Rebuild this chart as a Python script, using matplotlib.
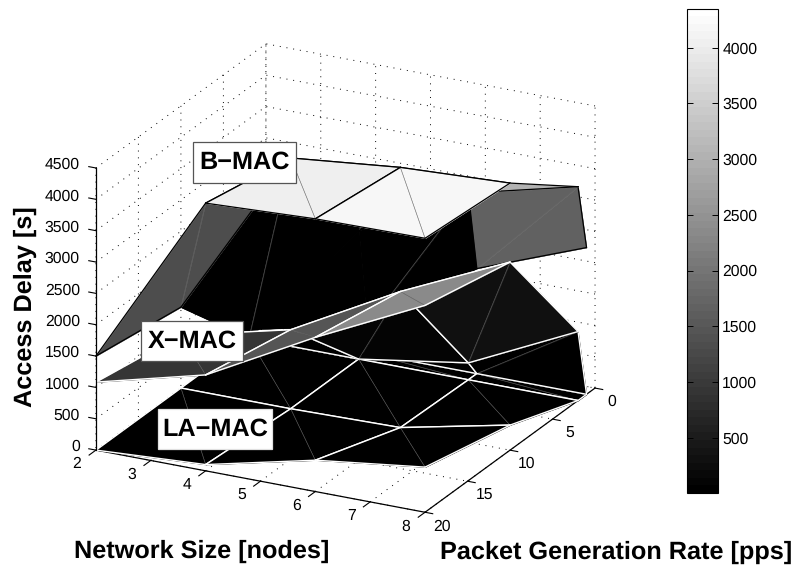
import matplotlib
matplotlib.use("Agg")
import matplotlib.pyplot as plt
import matplotlib.cm as cm
import matplotlib.colors as colors
from matplotlib.patches import Rectangle
from mpl_toolkits.mplot3d import proj3d
from mpl_toolkits.mplot3d.art3d import Poly3DCollection

plt.rcParams["font.family"] = ["Liberation Sans", "DejaVu Sans"]
plt.rcParams["text.hinting"] = "none"

network_size = [2, 4, 6, 8]
packet_rate = [1, 2, 10, 20]
y_ticks = [0, 5, 10, 15, 20]
x_ticks = [2, 3, 4, 5, 6, 7, 8]
z_ticks = [0, 500, 1000, 1500, 2000, 2500, 3000, 3500, 4000, 4500]
bar_ticks = [500, 1000, 1500, 2000, 2500, 3000, 3500, 4000]

# rows follow packet_rate, columns follow network_size
bmac_delay = [
    [50, 430, 1675, 2340],
    [0, 2050, 2980, 3410],
    [1290, 4000, 4180, 4260],
    [1500, 4270, 4350, 4370],
]
xmac_delay = [
    [0, 0, 0, 0],
    [0, 0, 270, 1100],
    [845, 1260, 2200, 3000],
    [1085, 1530, 2460, 3300],
]
lamac_delay = [
    [0, 0, 0, 0],
    [0, 0, 0, 0],
    [0, 0, 30, 400],
    [0, 100, 500, 720],
]

# colour value of the two triangles in each cell
bmac_shade_a = [[3, 3, 1640], [3, 3, 3000], [1350, 4030, 4200]]
bmac_shade_b = [[3, 3, 1640], [3, 3, 3], [1350, 4030, 4200]]
xmac_shade_a = [[3, 3, 3], [3, 80, 300], [950, 1450, 2330]]
xmac_shade_b = [[3, 3, 3], [3, 80, 300], [950, 1450, 2330]]
lamac_shade_a = [[3, 3, 3], [3, 3, 3], [3, 3, 3]]
lamac_shade_b = [[3, 3, 3], [3, 3, 3], [3, 3, 3]]

W, H = 795, 567
fig = plt.figure(figsize=(W / 100, H / 100), dpi=100)
S = 590
ax = fig.add_axes(
    [42.5 / W, -14 / H, S / W, S / H], projection="3d", computed_zorder=False
)
ax.set_proj_type("ortho")
ax.view_init(elev=21.8, azim=-63.05)
ax.set_box_aspect((1, 1.016, 0.823))
ax.patch.set_alpha(0)

cmap = plt.get_cmap("gray").resampled(64)
norm = colors.Normalize(3, 4350)

order = 2


def draw_surface(z, shade_a, shade_b, edge, lw):
    global order
    for j in range(3):
        for i in range(3):
            x0, x1 = network_size[i], network_size[i + 1]
            y0, y1 = packet_rate[j], packet_rate[j + 1]
            p00 = (x0, y0, z[j][i])
            p10 = (x1, y0, z[j][i + 1])
            p01 = (x0, y1, z[j + 1][i])
            p11 = (x1, y1, z[j + 1][i + 1])
            for tri, val in ((p00, p10, p11), shade_a[j][i]), ((p00, p11, p01), shade_b[j][i]):
                c = cmap(norm(val))
                poly = Poly3DCollection([tri], facecolor=c, edgecolor=c, linewidth=0.3)
                poly.set_zorder(order)
                ax.add_collection3d(poly)
                order += 1
            # thin diagonal
            ax.plot(
                [x0, x1], [y0, y1], [z[j][i], z[j + 1][i + 1]],
                color="#666666", lw=0.4, zorder=order,
            )
            order += 1
            for a, b in ((p00, p10), (p10, p11), (p11, p01), (p01, p00)):
                ax.plot(
                    [a[0], b[0]], [a[1], b[1]], [a[2], b[2]],
                    color=edge, lw=lw, zorder=order, solid_capstyle="round",
                )
                order += 1


draw_surface(bmac_delay, bmac_shade_a, bmac_shade_b, "black", 0.9)
draw_surface(lamac_delay, lamac_shade_a, lamac_shade_b, "white", 1.0)
draw_surface(xmac_delay, xmac_shade_a, xmac_shade_b, "white", 1.0)

ax.set_xlim(2, 8)
ax.set_ylim(20, 0)
ax.set_zlim(0, 4500)
ax.set_xticks(x_ticks)
ax.set_yticks(y_ticks)
ax.set_zticks(z_ticks)
ax.set_xticklabels([])
ax.set_yticklabels([])
ax.set_zticklabels([])

for axis in (ax.xaxis, ax.yaxis, ax.zaxis):
    axis.set_pane_color((1, 1, 1, 0))
    axis.pane.set_edgecolor("none")
    axis._axinfo["grid"].update(color="black", linewidth=0.7, linestyle=(0, (1, 6)))
    axis._axinfo["tick"].update(inward_factor=0.0, outward_factor=0.0)
    axis.line.set_linewidth(0.9)
ax.zaxis.line.set_color("none")

# the box axes sit on the front edges, matlab style
axis_z = order + 5
ax.plot([2, 2], [20, 20], [0, 4500], color="black", lw=0.9, zorder=axis_z)
for t in z_ticks:
    ax.plot([2, 1.87], [20, 20], [t, t], color="black", lw=0.8, zorder=axis_z)
for t in x_ticks:
    ax.plot([t, t], [20, 20.8], [0, 0], color="black", lw=0.8, zorder=axis_z)
for t in y_ticks:
    ax.plot([8, 8.14], [t, t], [0, 0], color="black", lw=0.8, zorder=axis_z)

proj = ax.get_proj()


def tick_label(text, x, y, z, dx, dy, ha="center"):
    px, py, _ = proj3d.proj_transform(x, y, z, proj)
    ax.annotate(
        str(text), (px, py), xytext=(dx, dy), textcoords="offset pixels",
        fontsize=11.3, ha=ha, va="center", zorder=axis_z + 1,
    )


for t in x_ticks:
    tick_label(t, t, 20, 0, -19, -14)
for t in y_ticks:
    tick_label(t, 8, t, 0, 17, -14)
for t in z_ticks:
    tick_label(t, 2, 20, t, -16, 3, ha="right")

# colour bar
cax = fig.add_axes([687 / W, 1 - 493 / H, 31 / W, 484.3 / H])
sm = cm.ScalarMappable(norm=norm, cmap=cmap)
cb = fig.colorbar(sm, cax=cax)
cb.set_ticks(bar_ticks)
cb.ax.tick_params(labelsize=11.3, direction="in", length=4, width=0.7, pad=3, left=True, right=True)
cb.outline.set_linewidth(0.8)

fig.text(25 / W, 1 - 307 / H, "Access Delay [s]", rotation=90, fontsize=18.2,
         fontweight="bold", ha="center", va="center")
fig.text(202 / W, 1 - 551 / H, "Network Size [nodes]", fontsize=18.2,
         fontweight="bold", ha="center", va="center")
fig.text(616 / W, 1 - 552 / H, "Packet Generation Rate [pps]", fontsize=18.2,
         fontweight="bold", ha="center", va="center")

for name, x0, y0, x1, y1, ec in (
    ("B\u2212MAC", 193, 142, 296, 183, "#555555"),
    ("X\u2212MAC", 141, 321, 243, 361, "#555555"),
    ("LA\u2212MAC", 158, 409, 272, 449, "#e0e0e0"),
):
    fig.add_artist(Rectangle((x0 / W, 1 - y1 / H), (x1 - x0) / W, (y1 - y0) / H,
                             transform=fig.transFigure, fc="white", ec=ec, lw=0.9, zorder=4))
    fig.text((x0 + x1) / 2 / W, 1 - (y0 + y1) / 2 / H, name, fontsize=18.2, fontweight="bold",
             ha="center", va="center", zorder=5)

fig.savefig("out.png", dpi=100)
